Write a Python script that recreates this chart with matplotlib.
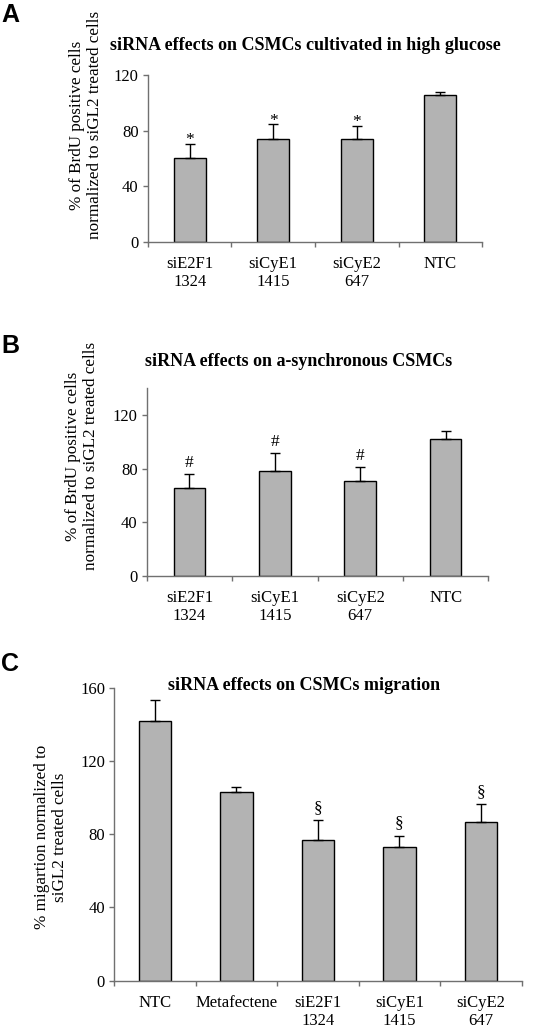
import matplotlib.pyplot as plt
import numpy as np

# panel A: BrdU, high glucose
cats_a = ['siE2F1\n1324', 'siCyE1\n1415', 'siCyE2\n647', 'NTC']
vals_a = [60.4, 74.0, 74.0, 105.6]
errs_a = [10.3, 10.5, 9.4, 2.2]
marks_a = ['*', '*', '*', '']

# panel B: BrdU, a-synchronous
cats_b = ['siE2F1\n1324', 'siCyE1\n1415', 'siCyE2\n647', 'NTC']
vals_b = [65.3, 78.4, 70.5, 102.2]
errs_b = [10.9, 13.4, 10.9, 6.0]
marks_b = ['#', '#', '#', '']

# panel C: migration
cats_c = ['NTC', 'Metafectene', 'siE2F1\n1324', 'siCyE1\n1415', 'siCyE2\n647']
vals_c = [141.8, 103.2, 76.8, 72.8, 86.7]
errs_c = [11.5, 2.8, 10.9, 6.4, 9.6]
marks_c = ['', '', '§', '§', '§']

plt.rcParams['font.family'] = ['Liberation Serif', 'DejaVu Serif']
bar_color = '#b3b3b3'
axis_color = '#707070'

fig = plt.figure(figsize=(5.6, 10.29), dpi=100)


def panel(rect, cats, vals, errs, marks, ymax, yticks, width, mark_gap):
    ax = fig.add_axes(rect)
    x = np.arange(len(cats))
    ax.bar(x, vals, width=width, color=bar_color, edgecolor='black', linewidth=1, zorder=2)
    ax.errorbar(x, vals, yerr=[np.zeros(len(errs)), errs], fmt='none', ecolor='black',
                elinewidth=1, capsize=3.5, capthick=1, zorder=3)
    for xi, v, e, m in zip(x, vals, errs, marks):
        if m:
            ax.annotate(m, (xi, v + e), xytext=(0, mark_gap), textcoords='offset points',
                        ha='center', va='bottom', fontsize=12.5)
    ax.set_xlim(-0.5, len(cats) - 0.5)
    ax.set_ylim(0, ymax)
    ax.set_yticks(yticks)
    ax.tick_params(axis='y', labelsize=12, length=3.6, width=1, color=axis_color, pad=3)
    ax.set_xticks(x)
    ax.set_xticklabels(cats, fontsize=12)
    ax.set_xticks(np.arange(len(cats) + 1) - 0.5, minor=True)
    ax.tick_params(axis='x', which='major', length=0, pad=10)
    ax.tick_params(axis='x', which='minor', length=3.6, width=1, color=axis_color)
    for s in ['top', 'right']:
        ax.spines[s].set_visible(False)
    for s in ['left', 'bottom']:
        ax.spines[s].set_color(axis_color)
        ax.spines[s].set_linewidth(1)
    return ax


panel([0.264, 0.7648, 0.597, 0.1623], cats_a, vals_a, errs_a, marks_a, 120, [0, 40, 80, 120], 0.38, -3)
panel([0.262, 0.4402, 0.610, 0.1827], cats_b, vals_b, errs_b, marks_b, 140, [0, 40, 80, 120], 0.37, 2)
panel([0.204, 0.0470, 0.7275, 0.2847], cats_c, vals_c, errs_c, marks_c, 160, [0, 40, 80, 120, 160], 0.40, 3)

H = 1029.0
W = 560.0
# titles
fig.text(305 / W, 1 - 45 / H, 'siRNA effects on CSMCs cultivated in high glucose',
         ha='center', va='center', fontsize=13, fontweight='bold')
fig.text(299 / W, 1 - 362 / H, 'siRNA effects on a-synchronous CSMCs',
         ha='center', va='center', fontsize=13, fontweight='bold')
fig.text(304 / W, 1 - 686 / H, 'siRNA effects on CSMCs migration',
         ha='center', va='center', fontsize=13, fontweight='bold')

# y labels
ylab_kw = dict(ha='center', va='center', rotation=90, fontsize=12.3,
               multialignment='center', linespacing=1.15)
fig.text(86 / W, 1 - 125 / H, '% of BrdU positive cells\nnormalized to siGL2 treated cells', **ylab_kw)
fig.text(82 / W, 1 - 456 / H, '% of BrdU positive cells\nnormalized to siGL2 treated cells', **ylab_kw)
fig.text(51 / W, 1 - 837 / H, '% migartion normalized to\nsiGL2 treated cells', **ylab_kw)

# panel letters
for letter, ytop in [('A', 3), ('B', 334), ('C', 652)]:
    fig.text(1 / W, 1 - ytop / H, letter, ha='left', va='top', fontsize=18,
             fontweight='bold', family=['Liberation Sans', 'DejaVu Sans'])

fig.savefig('out.png', dpi=100)
